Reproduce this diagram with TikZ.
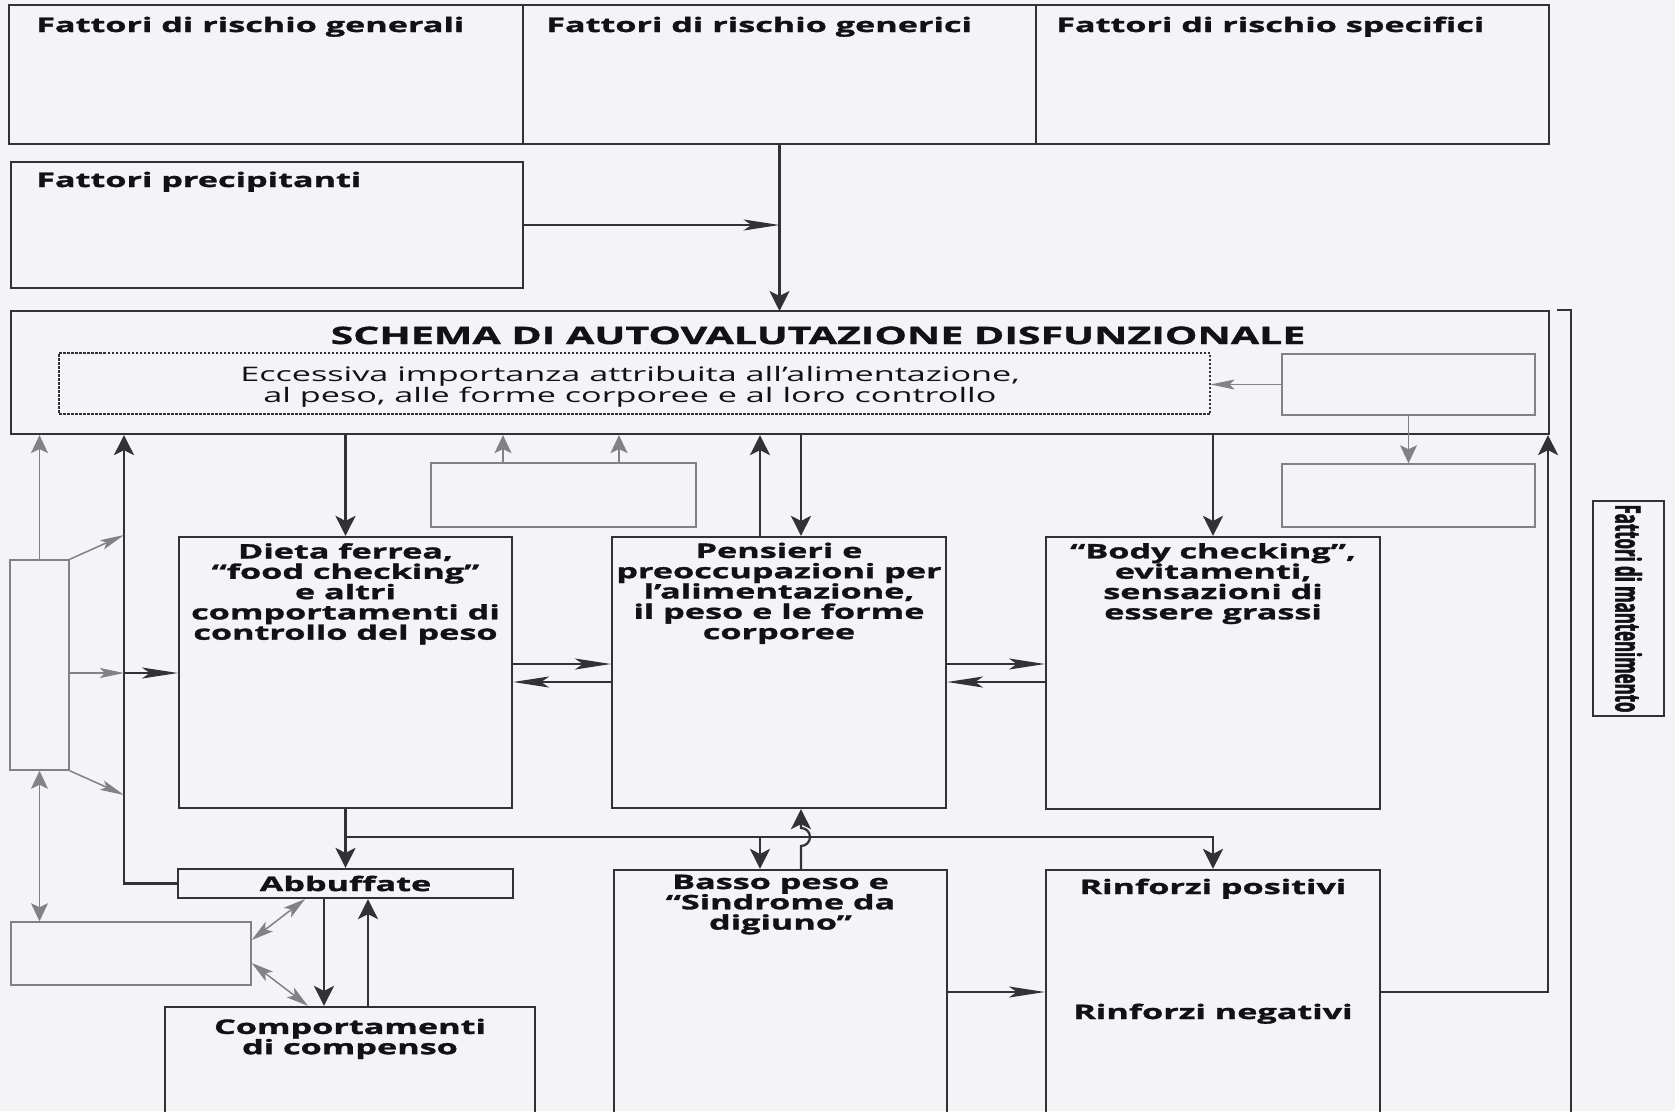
\documentclass[tikz,border=0pt]{standalone}
\usepackage{fontspec}
\setmainfont{Open Sans}[FakeStretch=1.71, BoldFeatures={FakeBold=1.5}]
\newfontfamily\verticale{Open Sans}[FakeStretch=0.48, BoldFeatures={FakeBold=1.5}]
\usepackage{xcolor}
\usepackage{tikz}
\usetikzlibrary{arrows.meta}
\usetikzlibrary{positioning}
\definecolor{carta}{RGB}{244,244,246}
\definecolor{tratto}{RGB}{50,50,52}
\definecolor{chiaro}{RGB}{130,130,134}
\definecolor{inchiostro}{RGB}{18,18,20}
\tikzset{
    scatola/.style = {draw=tratto, line width=2.2pt, inner sep=0pt},
    grigio/.style = {draw=chiaro, line width=1.5pt, inner sep=0pt},
    tratteggio/.style = {draw=tratto, line width=1.2pt, dash pattern=on 2.5pt off 1.5pt, inner sep=0pt},
    taglia/.style 2 args = {minimum width=#1, minimum height=#2},
    testo/.style = {inner sep=0pt, align=center, text=inchiostro, font=\fontsize{20}{20.3}\selectfont\bfseries},
    linea/.style = {draw=tratto, line width=2.2pt},
    fo/.style = {linea, -{Stealth[length=36pt, width=11pt, inset=8pt]}},
    fv/.style = {linea, -{Stealth[length=20pt, width=20pt, inset=5pt]}},
    gfo/.style = {draw=chiaro, line width=1.5pt, -{Stealth[length=24pt, width=10pt, inset=5pt]}},
    gfv/.style = {draw=chiaro, line width=1.5pt, -{Stealth[length=18pt, width=17pt, inset=4pt]}},
    gdv/.style = {draw=chiaro, line width=1.5pt, {Stealth[length=18pt, width=17pt, inset=4pt]}-{Stealth[length=18pt, width=17pt, inset=4pt]}},
    gdo/.style = {draw=chiaro, line width=1.5pt, {Stealth[length=22pt, width=12pt, inset=5pt]}-{Stealth[length=22pt, width=12pt, inset=5pt]}}
}

\begin{document}
\begin{tikzpicture}[x=1pt, y=-1pt]
                \useasboundingbox (0,0) rectangle (1675,1111);
                \fill[carta] (0,0) rectangle (1675,1111);
                \clip (0,0) rectangle (1675,1111);
                \node (genA) [scatola, taglia={514pt}{139pt}] at (266, 74.5) {};
                \node (genB) [scatola, taglia={513pt}{139pt}] at (779.5, 74.5) {};
                \node (genC) [scatola, taglia={513pt}{139pt}] at (1292.5, 74.5) {};
                \node (genAt) [testo, anchor=base west] at (36, 32) {Fattori di rischio generali};
                \node (genBt) [testo, anchor=base west] at (546, 32) {Fattori di rischio generici};
                \node (genCt) [testo, anchor=base west] at (1056, 32) {Fattori di rischio specifici};
                \node (prec) [scatola, taglia={512pt}{126pt}] at (267, 225) {};
                \node (prect) [testo, anchor=base west] at (36, 187) {Fattori precipitanti};
                \draw[fo] (prec.east) -- (prec.east -| genB.south);
                \draw[fv] (genB.south) -- (genB.south |- 0,311);
                \node (sch) [scatola, taglia={1538pt}{123pt}] at (780, 372.5) {};
                \node (scht) [testo, font=\fontsize{24}{26}\selectfont\bfseries, anchor=base] at (818, 344) {SCHEMA DI AUTOVALUTAZIONE DISFUNZIONALE};
                \node (tratt) [tratteggio, taglia={1151pt}{61pt}] at (634.5, 383.5) {};
                \node (ecc) [testo, font=\fontsize{20}{21}\selectfont, anchor=north] at (630, 366) {Eccessiva importanza attribuita all’alimentazione,\\al peso, alle forme corporee e al loro controllo};
                \node (grA) [grigio, taglia={253pt}{61pt}] at (1408.5, 384.5) {};
                \node (grB) [grigio, taglia={253pt}{63pt}] at (1408.5, 495.5) {};
                \node (grM) [grigio, taglia={265pt}{64pt}] at (563.5, 495) {};
                \node (grL) [grigio, taglia={59pt}{210pt}] at (39.5, 665) {};
                \node (grD) [grigio, taglia={240pt}{63pt}] at (131, 953.5) {};
                \draw[gfo] (grA.west) -- (grA.west -| tratt.east);
                \draw[gfv] (grA.south) -- (grB.north);
                \draw[gfv] (grM.north -| 503,0) -- (sch.south -| 503,0);
                \draw[gfv] (grM.north -| 619,0) -- (sch.south -| 619,0);
                \draw[gfv] (grL.north) -- (grL.north |- sch.south);
                \draw[gdv] (grL.south) -- (grL.south |- grD.north);
                \node (dieta) [scatola, taglia={333pt}{271pt}] at (345.5, 672.5) {};
                \node (pens) [scatola, taglia={334pt}{271pt}] at (779, 672.5) {};
                \node (body) [scatola, taglia={334pt}{272pt}] at (1213, 673) {};
                \node (dietat) [testo, anchor=north] at (345.5, 543) {Dieta ferrea,\\“food checking”\\e altri\\comportamenti di\\controllo del peso};
                \node (penst) [testo, anchor=north] at (779, 542.5) {Pensieri e\\preoccupazioni per\\l’alimentazione,\\il peso e le forme\\corporee};
                \node (bodyt) [testo, anchor=north] at (1213, 543) {“Body checking”,\\evitamenti,\\sensazioni di\\essere grassi};
                \node (abb) [scatola, testo, taglia={335pt}{29pt}] at (345.5, 883.5) {Abbuffate};
                \node (comp) [scatola, taglia={370pt}{123pt}] at (350, 1068.5) {};
                \node (compt) [testo, anchor=north] at (350, 1018.5) {Comportamenti\\di compenso};
                \node (basso) [scatola, taglia={333pt}{260pt}] at (780.5, 1000) {};
                \node (bassot) [testo, anchor=north] at (780.5, 874.5) {Basso peso e\\“Sindrome da\\digiuno”};
                \node (rinf) [scatola, taglia={334pt}{260pt}] at (1213, 1000) {};
                \node (rinfA) [testo, anchor=base] at (1213, 894) {Rinforzi positivi};
                \node (rinfB) [testo, anchor=base] at (1213, 1019) {Rinforzi negativi};
                \node (mant) [scatola, rotate=-90, taglia={215pt}{71pt}, inner sep=0pt, text=inchiostro, font=\verticale\fontsize{35}{35}\selectfont\bfseries] at (1628.5, 608.5) {Fattori di mantenimento};
                \coordinate (sx) at (124, 673);
                \coordinate (bivio) at (345.5, 837);
                \draw[fv] (abb.west) -| (sx |- sch.south);
                \draw[fo] (sx) -- (dieta.west |- sx);
                \draw[gfo] (grL.east |- sx) -- (sx);
                \draw[gfo] (grL.north east) -- (sx |- 0,535);
                \draw[gfo] (grL.south east) -- (sx |- 0,795);
                \draw[fv] (dieta.north |- sch.south) -- (dieta.north);
                \draw[fv] (pens.north -| 760,0) -- (sch.south -| 760,0);
                \draw[fv] (sch.south -| 801,0) -- (pens.north -| 801,0);
                \draw[fv] (body.north |- sch.south) -- (body.north);
                \draw[fo] (dieta.east |- 0,664) -- (pens.west |- 0,664);
                \draw[fo] (pens.west |- 0,682) -- (dieta.east |- 0,682);
                \draw[fo] (pens.east |- 0,664) -- (body.west |- 0,664);
                \draw[fo] (body.west |- 0,682) -- (pens.east |- 0,682);
                \draw[fv] (dieta.south) -- (abb.north);
                \draw[fv] (bivio) -| (rinf.north);
                \draw[fv] (bivio -| 760,0) -- (basso.north -| 760,0);
                \draw[fv] (basso.north -| 801,0) -- (801, 846) arc[start angle=90, end angle=-90, radius=9] -- (pens.south -| 801,0);
                \draw[fv] (abb.south -| 324,0) -- (comp.north -| 324,0);
                \draw[fv] (comp.north -| 368,0) -- (abb.south -| 368,0);
                \draw[gdo] (grD.east |- 0,940) -- (abb.south -| 305,0);
                \draw[gdo] (grD.east |- 0,963) -- (comp.north -| 308,0);
                \draw[fo] (basso.east |- 0,992) -- (rinf.west |- 0,992);
                \draw[fv] (rinf.east |- 0,992) -| (sch.south -| 1548,0);
                \draw[linea] ([xshift=7pt]sch.north east) -| (1571, 1130);
            \end{tikzpicture}
\end{document}
